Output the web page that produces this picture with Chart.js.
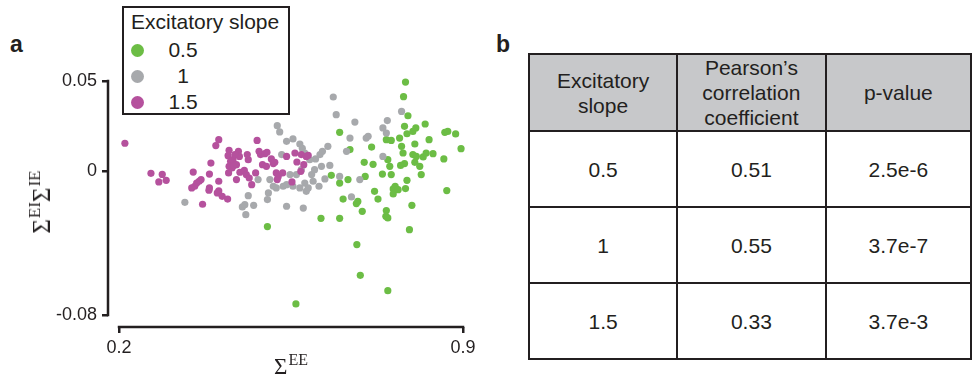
<!DOCTYPE html>
<html>
<head>
<meta charset="utf-8">
<script src="https://cdn.jsdelivr.net/npm/chart.js@4"></script>
<style>
  html, body { margin: 0; padding: 0; background: #fff; overflow: hidden; }
  body { width: 972px; height: 381px; position: relative; font-family: "Liberation Sans", Arial, sans-serif; color: #231f20; }
  #wrap { position: absolute; left: 0; top: 0; width: 480px; height: 381px; }
  .panel { position: absolute; font-weight: bold; font-size: 23px; }
  #legend { position: absolute; left: 122px; top: 6px; width: 164px; height: 105px; border: 2.5px solid #231f20; background: #fff; }
  #legend .ttl { position: absolute; left: 7px; top: 2px; font-size: 21px; line-height: 24px; white-space: nowrap; }
  #legend .row { position: absolute; left: 0; height: 24px; width: 100%; }
  #legend .dot { position: absolute; left: 7px; top: 5.5px; width: 13px; height: 13px; border-radius: 50%; }
  #legend .lab { position: absolute; left: 34px; width: 50px; text-align: center; font-size: 21px; line-height: 24px; }
  .ser { font-family: "Liberation Serif", "DejaVu Serif", serif; white-space: nowrap; position: absolute; line-height: 1; }
  #ytitle { left: 40px; top: 202px; font-size: 25px; transform: translate(-50%, -50%) rotate(-90deg); }
  #ytitle sup { font-size: 17px; vertical-align: 10px; margin-left: 1px; }
  #xtitle { left: 291px; top: 352px; font-size: 23px; transform: translateX(-50%); }
  #xtitle sup { font-size: 16px; vertical-align: 9px; margin-left: 1px; }
  table { position: absolute; left: 528px; top: 53px; border-collapse: collapse; table-layout: fixed; }
  td { border: 2.5px solid #231f20; width: 150px; text-align: center; font-size: 21px; line-height: 25px; padding: 0; }
  tr.head td { background: #c7c8ca; height: 71px; }
  tr.body td { height: 74px; }
</style>
</head>
<body>
<div class="panel" style="left:10px; top:31px;">a</div>
<div class="panel" style="left:496px; top:31px;">b</div>
<div id="wrap"><canvas id="scatter" width="480" height="381"></canvas></div>
<div id="legend"><div class="ttl">Excitatory slope</div></div>
<div class="ser" id="ytitle">&Sigma;<sup>EI</sup>&Sigma;<sup>IE</sup></div>
<div class="ser" id="xtitle">&Sigma;<sup>EE</sup></div>
<table id="tbl"></table>
<script>
// slope categories and colours
const slopes = ['0.5', '1', '1.5'];
const colors = ['#6cbd45', '#a7a9ac', '#b5519d'];

// table values
const headers = ['Excitatory<br>slope', 'Pearson\u2019s<br>correlation<br>coefficient', 'p-value'];
const pearson = ['0.51', '0.55', '0.33'];
const pvalues = ['2.5e-6', '3.7e-7', '3.7e-3'];

// axis ticks
const xTicks = [0.2, 0.9];
const yTicks = [-0.08, 0, 0.05];

// slope 0.5 (green)
const xGreen = [0.502,0.560,0.611,0.649,0.649,0.666,0.656,0.670,0.649,0.686,0.683,0.695,0.684,0.691,0.699,0.701,0.717,0.714,0.720,0.727,
  0.736,0.744,0.743,0.747,0.744,0.747,0.751,0.754,0.758,0.758,0.762,0.754,0.771,0.775,0.778,0.781,0.783,0.773,0.779,0.783,
  0.788,0.781,0.786,0.798,0.804,0.802,0.798,0.805,0.802,0.812,0.815,0.819,0.825,0.823,0.831,0.839,0.861,0.863,0.869,0.885,
  0.896,0.867,0.796,0.791,0.747,0.632,0.786,0.768];
const yGreen = [-0.0309,-0.0739,-0.0263,-0.0263,-0.0067,-0.0048,-0.0156,0.0119,0.0215,-0.0169,-0.0181,-0.0224,-0.0409,-0.0580,0.0048,-0.0030,0.0037,0.0133,-0.0113,-0.0156,
  -0.0017,-0.0220,-0.0252,-0.0261,0.0174,0.0063,0.0026,-0.0020,-0.0100,-0.0128,-0.0085,0.0170,0.0183,0.0137,0.0100,0.0041,-0.0098,0.0031,0.0413,0.0494,
  0.0307,0.0248,0.0207,0.0220,0.0239,0.0150,0.0091,0.0081,0.0048,0.0026,-0.0020,0.0078,0.0100,0.0261,0.0174,0.0096,0.0067,0.0215,0.0220,0.0206,
  0.0124,-0.0109,-0.0191,-0.0326,-0.0665,-0.0024,-0.0052,-0.0104];

// slope 1 (grey)
const xGrey = [0.334,0.451,0.458,0.463,0.456,0.474,0.483,0.502,0.504,0.507,0.520,0.522,0.527,0.541,0.554,0.568,0.573,0.541,0.575,0.534,
  0.541,0.548,0.554,0.568,0.578,0.581,0.585,0.592,0.598,0.600,0.609,0.614,0.625,0.629,0.612,0.607,0.619,0.595,0.588,0.578,
  0.531,0.636,0.642,0.680,0.670,0.663,0.649,0.673,0.690,0.703,0.707,0.737,0.744,0.746,0.737,0.775,0.514,0.561,0.571];
const yGrey = [-0.0174,-0.0200,-0.0243,-0.0137,-0.0187,-0.0191,-0.0048,-0.0159,-0.0122,-0.0048,-0.0094,0.0252,0.0217,0.0165,0.0178,0.0150,0.0126,-0.0196,-0.0206,-0.0085,
  -0.0076,-0.0020,-0.0085,-0.0094,-0.0067,-0.0113,-0.0094,-0.0020,0.0007,0.0067,0.0091,0.0109,0.0137,0.0031,0.0026,-0.0085,-0.0044,-0.0057,0.0063,0.0100,
  0.0091,0.0411,0.0313,0.0272,0.0183,0.0109,-0.0030,-0.0144,-0.0048,0.0183,0.0193,0.0239,0.0211,0.0280,0.0081,0.0331,-0.0085,-0.0020,0.0007];

// slope 1.5 (purple)
const xPurple = [0.212,0.265,0.288,0.281,0.296,0.351,0.370,0.348,0.354,0.363,0.367,0.358,0.384,0.387,0.384,0.383,0.403,0.403,0.400,0.410,
  0.421,0.397,0.403,0.424,0.422,0.427,0.432,0.424,0.430,0.434,0.439,0.443,0.445,0.436,0.423,0.439,0.446,0.455,0.459,0.463,
  0.461,0.465,0.470,0.478,0.481,0.485,0.488,0.497,0.501,0.492,0.500,0.510,0.514,0.517,0.520,0.524,0.533,0.522,0.541,0.558,
  0.562,0.571,0.581,0.585,0.576,0.570,0.552];
const yPurple = [0.0154,-0.0013,-0.0019,-0.0061,-0.0052,-0.0006,-0.0185,-0.0094,-0.0085,-0.0057,-0.0048,-0.0067,-0.0017,0.0044,-0.0094,-0.0107,-0.0057,-0.0111,-0.0122,-0.0141,
  -0.0156,0.0141,0.0174,0.0115,0.0085,0.0054,0.0063,0.0026,0.0017,0.0030,0.0035,0.0109,0.0081,0.0091,-0.0011,-0.0048,-0.0007,0.0004,-0.0020,0.0063,
  0.0091,-0.0039,-0.0076,-0.0011,0.0170,0.0109,0.0091,0.0096,0.0104,0.0035,0.0026,0.0067,0.0041,0.0048,-0.0011,-0.0030,-0.0011,-0.0048,0.0081,0.0100,
  0.0050,0.0091,0.0081,0.0087,0.0035,-0.0002,-0.0061];

const series = [[xGreen, yGreen], [xGrey, yGrey], [xPurple, yPurple]];
const drawOrder = [2, 1, 0];

const ink = '#231f20';
const tickFont = { family: '"Liberation Sans", Arial, sans-serif', size: 18 };

// detached spines drawn between first and last tick
const spines = {
  id: 'spines',
  afterDraw(chart) {
    const { ctx, chartArea, scales } = chart;
    ctx.save();
    ctx.strokeStyle = ink;
    ctx.lineWidth = 2.5;
    ctx.lineCap = 'square';
    ctx.beginPath();
    ctx.moveTo(chartArea.left, scales.y.getPixelForValue(yTicks[yTicks.length - 1]));
    ctx.lineTo(chartArea.left, scales.y.getPixelForValue(yTicks[0]));
    ctx.moveTo(scales.x.getPixelForValue(xTicks[0]), chartArea.bottom);
    ctx.lineTo(scales.x.getPixelForValue(xTicks[xTicks.length - 1]), chartArea.bottom);
    ctx.stroke();
    ctx.restore();
  }
};

new Chart(document.getElementById('scatter'), {
  type: 'scatter',
  data: {
    datasets: series.map(([xs, ys], i) => ({
      label: slopes[i],
      data: xs.map((x, j) => ({ x, y: ys[j] })),
      backgroundColor: colors[i],
      borderWidth: 0,
      pointRadius: 3.6,
      pointHoverRadius: 3.6,
      order: drawOrder[i],
      clip: false
    }))
  },
  options: {
    responsive: false,
    animation: false,
    events: [],
    layout: { padding: { left: 0, top: 81, right: 17, bottom: 0 } },
    plugins: { legend: { display: false }, tooltip: { enabled: false } },
    scales: {
      x: {
        type: 'linear',
        min: 0.1776, max: 0.9,
        afterFit: s => { s.height = 54; },
        afterBuildTicks: s => { s.ticks = xTicks.map(v => ({ value: v })); },
        ticks: { color: ink, font: tickFont, padding: 4, maxRotation: 0, callback: v => String(v) },
        grid: { drawOnChartArea: false, color: ink, lineWidth: 2.5, tickLength: 6 },
        border: { display: false }
      },
      y: {
        type: 'linear',
        min: -0.0867, max: 0.05,
        afterFit: s => { s.width = 108; },
        afterBuildTicks: s => { s.ticks = yTicks.map(v => ({ value: v })); },
        ticks: { color: ink, font: tickFont, padding: 5, callback: v => String(v) },
        grid: { drawOnChartArea: false, color: ink, lineWidth: 2.5, tickLength: 6 },
        border: { display: false }
      }
    }
  },
  plugins: [spines]
});

// legend from the series
const legend = document.getElementById('legend');
slopes.forEach((s, i) => {
  const row = document.createElement('div');
  row.className = 'row';
  row.style.top = (30 + i * 26) + 'px';
  row.innerHTML = `<span class="dot" style="background:${colors[i]}"></span><span class="lab">${s}</span>`;
  legend.appendChild(row);
});

// table
document.getElementById('tbl').innerHTML =
  `<tr class="head">${headers.map(h => `<td>${h}</td>`).join('')}</tr>` +
  slopes.map((s, i) => `<tr class="body"><td>${s}</td><td>${pearson[i]}</td><td>${pvalues[i]}</td></tr>`).join('');
</script>
</body>
</html>
